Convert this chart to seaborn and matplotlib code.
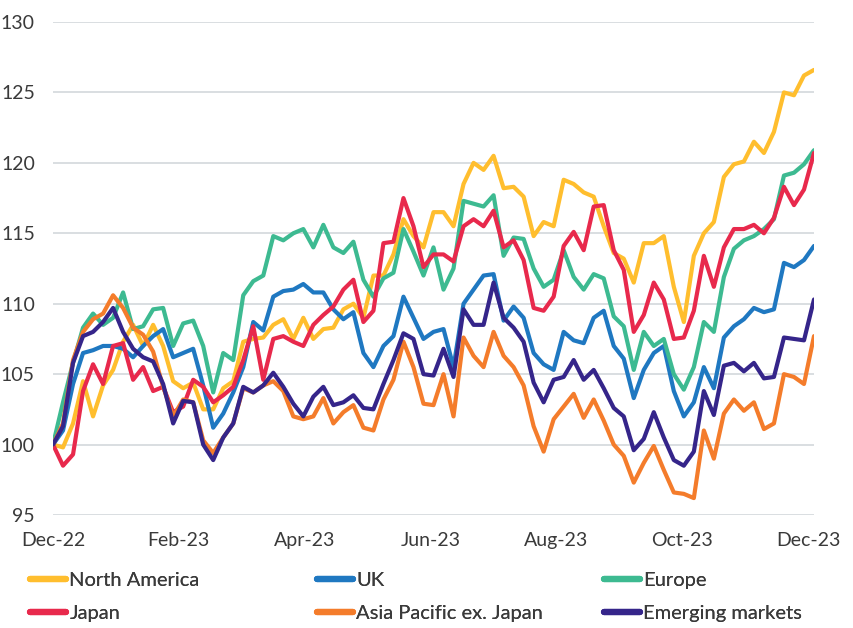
import numpy as np
import pandas as pd
import matplotlib
matplotlib.use("Agg")
import matplotlib.pyplot as plt
import seaborn as sns
from matplotlib.lines import Line2D

# ---- data (index values, ~3 trading days apart) ----
north_america = [100, 99.8, 101.5, 104.5, 102, 104.2, 105.3, 107.3, 108.5, 107, 108.5, 107, 104.5, 104,
                 104.4, 102.5, 102.5, 104, 104.5, 107.3, 107.5, 107.6, 108.5, 108.9, 107.5, 109, 107.5,
                 108.2, 108.3, 109.6, 110, 109, 112, 112, 113.5, 116, 114.8, 114, 116.5, 116.5, 115.5,
                 118.5, 120, 119.5, 120.5, 118.2, 118.3, 117.6, 114.8, 115.8, 115.5, 118.8, 118.5, 117.9,
                 117.6, 115.5, 113.6, 113.2, 111.5, 114.3, 114.3, 114.8, 111.2, 108.7, 113.4, 115, 115.8,
                 119, 119.9, 120.1, 121.5, 120.7, 122.2, 125, 124.8, 126.2, 126.6]
uk = [100, 101, 104.3, 106.5, 106.7, 107, 107, 106.8, 106.2, 107, 107.7, 108.2, 106.2, 106.5, 106.8,
      104.2, 101.2, 102.2, 103.7, 105.5, 108.7, 108.1, 110.5, 110.9, 111, 111.4, 110.8, 110.8, 109.6,
      108.9, 109.4, 106.5, 105.5, 107, 107.7, 110.5, 109, 107.5, 108, 108.2, 105.5, 110, 111, 112,
      112.1, 108.8, 109.8, 109, 106.5, 105.7, 105.3, 108, 107.4, 107.2, 109, 109.5, 107, 106.1, 103.3,
      105.3, 106.5, 107, 103.8, 102, 103, 105.5, 104, 107.6, 108.4, 108.9, 109.7, 109.4, 109.6, 112.9,
      112.6, 113.1, 114.1]
europe = [100, 103, 105.8, 108.3, 109.3, 108.5, 109, 110.8, 108.2, 108.4, 109.6, 109.7, 107, 108.6,
          108.8, 107, 103.7, 106.5, 106, 110.6, 111.6, 112, 114.8, 114.5, 115, 115.3, 114, 115.6, 114,
          113.6, 114.4, 111.7, 110.5, 111.8, 112.2, 115.3, 113.7, 112, 114, 111, 112.5, 117.3, 117.1,
          116.9, 117.7, 113.4, 114.7, 114.6, 112.5, 111.2, 111.7, 113.8, 111.9, 111, 112.1, 111.8, 109.1,
          108.4, 105.3, 108, 107, 107.5, 105, 103.9, 105.5, 108.7, 108, 111.9, 113.9, 114.5, 114.8,
          115.3, 116, 119.1, 119.3, 119.9, 120.9]
japan = [100, 98.5, 99.3, 103.8, 105.7, 104.3, 107, 107.2, 104.6, 105.5, 103.8, 104.1, 102.3, 102.7,
         104.6, 104.1, 103, 103.5, 104.1, 106, 108.4, 104.6, 107.5, 107.7, 107.3, 107, 108.5, 109.2,
         109.8, 111, 111.7, 108.7, 109.5, 114.3, 114.4, 117.5, 115.5, 112.6, 113.5, 113.5, 113, 115.5,
         116, 115.5, 116.6, 114, 114.5, 113.1, 109.7, 109.5, 110.5, 114.1, 115.1, 113.8, 116.9, 117,
         113.8, 112.4, 108, 109.2, 111.5, 110.3, 107.5, 107.6, 109.5, 113.4, 111.2, 114, 115.3, 115.3,
         115.6, 115, 116.1, 118.3, 117, 118.1, 120.7]
asia_pacific = [100, 101.5, 106, 108, 108.9, 109.3, 110.6, 109.7, 108.3, 107.8, 106.6, 104.1, 102, 103.2,
                103, 100.3, 99.4, 100.5, 101.5, 104, 103.7, 104.2, 104.5, 103.8, 102, 101.8, 102, 103.3,
                101.5, 102.3, 102.8, 101.2, 101, 103.2, 104.6, 107.3, 105.5, 102.9, 102.8, 105, 102,
                107.6, 106.3, 105.5, 108, 106.3, 105.5, 104.2, 101.3, 99.5, 101.8, 102.7, 103.6, 101.9,
                103.2, 101.7, 100, 99.2, 97.3, 98.7, 99.9, 98.2, 96.6, 96.5, 96.2, 101, 99, 102.2, 103.2,
                102.4, 103, 101.1, 101.5, 105, 104.8, 104.3, 107.7]
emerging = [100, 101.3, 105.8, 107.7, 108, 108.7, 109.7, 108, 106.8, 106.2, 105.9, 104.3, 101.5, 103.1,
            103, 100, 98.9, 100.5, 101.5, 104.1, 103.7, 104.2, 105.1, 104.1, 102.9, 102, 103.4, 104.1,
            102.8, 103, 103.5, 102.6, 102.5, 104.3, 106, 107.9, 107.5, 105, 104.9, 106.8, 104.8, 109.6,
            108.5, 108.5, 111.5, 109, 108.3, 107.3, 104.4, 103, 104.6, 104.8, 106, 104.6, 105.3, 104,
            102.6, 102, 99.6, 100.4, 102.3, 100.5, 98.9, 98.5, 99.5, 103.8, 102.1, 105.6, 105.8, 105.2,
            105.8, 104.7, 104.8, 107.6, 107.5, 107.4, 110.3]

series_names = ["North America", "UK", "Europe", "Japan", "Asia Pacific ex. Japan", "Emerging markets"]
series_values = [north_america, uk, europe, japan, asia_pacific, emerging]
colors = ["#FFBE2E", "#1F78C1", "#3DBA91", "#E8294C", "#F47C2B", "#35258A"]
x_tick_labels = ["Dec-22", "Feb-23", "Apr-23", "Jun-23", "Aug-23", "Oct-23", "Dec-23"]
y_ticks = [95, 100, 105, 110, 115, 120, 125, 130]

frames = []
for name, vals in zip(series_names, series_values):
    frames.append(pd.DataFrame({"step": np.arange(len(vals)), "value": vals, "series": name}))
df = pd.concat(frames, ignore_index=True)

sns.set_theme(style="white")
plt.rcParams["font.family"] = ["Lato", "DejaVu Sans"]
text_color = "#3a3a3a"

fig = plt.figure(figsize=(8.54, 6.28), dpi=100)
ax = fig.add_axes([53 / 854, 1 - 515 / 628, (814 - 53) / 854, (515 - 22) / 628])

palette = dict(zip(series_names, colors))
sns.lineplot(data=df, x="step", y="value", hue="series", hue_order=series_names,
             palette=palette, linewidth=3.0, legend=False, ax=ax)
for ln in ax.get_lines():
    ln.set_solid_joinstyle("round")
    ln.set_solid_capstyle("round")

n = len(north_america)
ax.set_xlim(0, n - 1)
ax.set_ylim(95, 130)
ax.set_yticks(y_ticks)
ax.set_yticklabels([str(v) for v in y_ticks])
tick_step = (n - 1) * (754 / 760) / 6
ax.set_xticks([i * tick_step for i in range(len(x_tick_labels))])
ax.set_xticklabels(x_tick_labels)
ax.grid(axis="y", color="#d3d8dc", linewidth=1.2)
ax.grid(axis="x", visible=False)
ax.set_axisbelow(True)
for s in ax.spines.values():
    s.set_visible(False)
ax.tick_params(axis="y", length=0, pad=13, labelsize=14, labelcolor=text_color)
ax.tick_params(axis="x", length=0, pad=12, labelsize=14, labelcolor=text_color)
ax.set_xlabel("")
ax.set_ylabel("")

# legend: three columns, two rows
col_x = [30 / 854, 317 / 854, 604 / 854]
for c in range(3):
    idxs = [c, c + 3]
    handles = [Line2D([0], [0], color=colors[i], linewidth=4.5, solid_capstyle="round") for i in idxs]
    labels = [series_names[i] for i in idxs]
    leg = fig.legend(handles, labels, loc="upper left", bbox_to_anchor=(col_x[c], 1 - 572 / 628),
                     frameon=False, fontsize=14.5, handlelength=1.8, handletextpad=0.15,
                     labelspacing=0.8, borderaxespad=0, borderpad=0, labelcolor=text_color)
    fig.add_artist(leg)

fig.savefig("out.png", dpi=100, facecolor="white")
